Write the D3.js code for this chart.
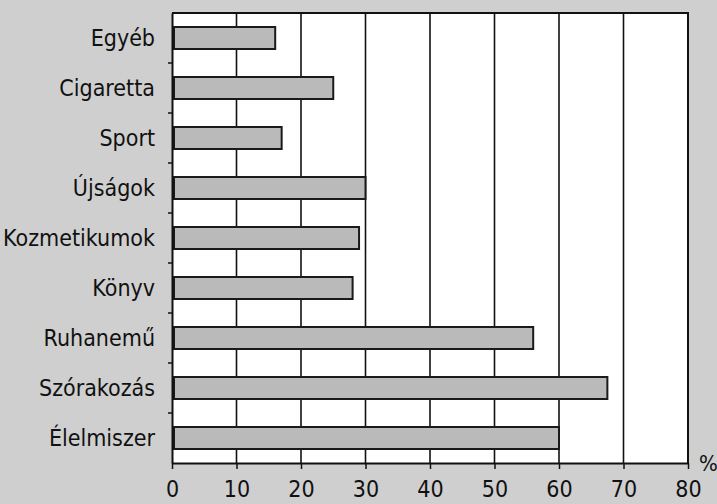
<!DOCTYPE html>
<html>
<head>
<meta charset="utf-8">
<script src="https://cdn.jsdelivr.net/npm/d3@7"></script>
<style>
  html, body { margin: 0; padding: 0; background: #cfcfcf; }
  svg { display: block; }
  .tick text { font-family: "DejaVu Sans Condensed", "DejaVu Sans", sans-serif; fill: #111; }
</style>
</head>
<body>
<div id="chart"></div>
<script>
// Kategóriák (felülről lefelé) és értékek (%)
const categories = ["Egyéb", "Cigaretta", "Sport", "Újságok", "Kozmetikumok", "Könyv", "Ruhanemű", "Szórakozás", "Élelmiszer"];
const values = [16, 25, 17, 30, 29, 28, 56, 67.5, 60];
const xTicks = [0, 10, 20, 30, 40, 50, 60, 70, 80];

const W = 717, H = 504;
const margin = { top: 13, right: 29, bottom: 41, left: 172 };
const width = W - margin.left - margin.right;
const height = H - margin.top - margin.bottom;

const data = categories.map((c, i) => ({ cat: c, value: values[i] }));

const svg = d3.select("#chart")
    .append("svg")
    .attr("width", W)
    .attr("height", H);

const g = svg.append("g")
    .attr("transform", `translate(${margin.left},${margin.top})`);

// Échelles
const x = d3.scaleLinear().domain([0, 80]).range([0, width]);
const y = d3.scaleBand().domain(categories).range([0, height]).paddingInner(0.56).paddingOuter(0.28);

// fond blanc du graphique
g.append("rect")
    .attr("x", 0).attr("y", 0)
    .attr("width", width).attr("height", height)
    .attr("fill", "#fff");

// Grille verticale
g.selectAll(".grid")
    .data(xTicks.filter(d => d > 0 && d < 80))
    .enter()
    .append("line")
    .attr("x1", d => x(d)).attr("x2", d => x(d))
    .attr("y1", 0).attr("y2", height)
    .attr("stroke", "#111")
    .attr("stroke-width", 1.6);

// cadre haut + droite
g.append("path")
    .attr("d", `M0,0H${width}V${height}`)
    .attr("fill", "none")
    .attr("stroke", "#111")
    .attr("stroke-width", 2);

// Barres
g.selectAll(".bar")
    .data(data)
    .enter()
    .append("rect")
    .attr("x", x(0) + 2)
    .attr("y", d => y(d.cat))
    .attr("width", d => x(d.value) - x(0) - 2)
    .attr("height", y.bandwidth())
    .attr("fill", "#bababa")
    .attr("stroke", "#1a1a1a")
    .attr("stroke-width", 2);

// Axe X
const xAxis = g.append("g")
    .attr("transform", `translate(0,${height})`)
    .call(d3.axisBottom(x).tickValues(xTicks).tickSize(6).tickSizeOuter(0).tickPadding(12));
xAxis.select(".domain").attr("stroke", "#111").attr("stroke-width", 2);
xAxis.selectAll(".tick line").attr("stroke", "#111").attr("stroke-width", 1.5);
xAxis.selectAll(".tick text").style("font-size", "23px");

g.append("text")
    .attr("x", width + 11)
    .attr("y", height + 8)
    .style("font-family", "DejaVu Sans Condensed, DejaVu Sans, sans-serif")
    .style("font-size", "22px")
    .attr("fill", "#111")
    .text("%");

// Axe Y
const yAxis = g.append("g")
    .call(d3.axisLeft(y).tickSize(0).tickPadding(17));
yAxis.select(".domain").attr("stroke", "#111").attr("stroke-width", 2);
yAxis.selectAll(".tick text")
    .style("font-size", "23px")
    .attr("dy", "0.35em")
    .attr("y", 0);

// petites graduations entre les catégories
g.selectAll(".ytick")
    .data(d3.range(1, categories.length))
    .enter()
    .append("line")
    .attr("x1", -4).attr("x2", 0)
    .attr("y1", i => i * height / categories.length)
    .attr("y2", i => i * height / categories.length)
    .attr("stroke", "#111")
    .attr("stroke-width", 1.5);
</script>
</body>
</html>
